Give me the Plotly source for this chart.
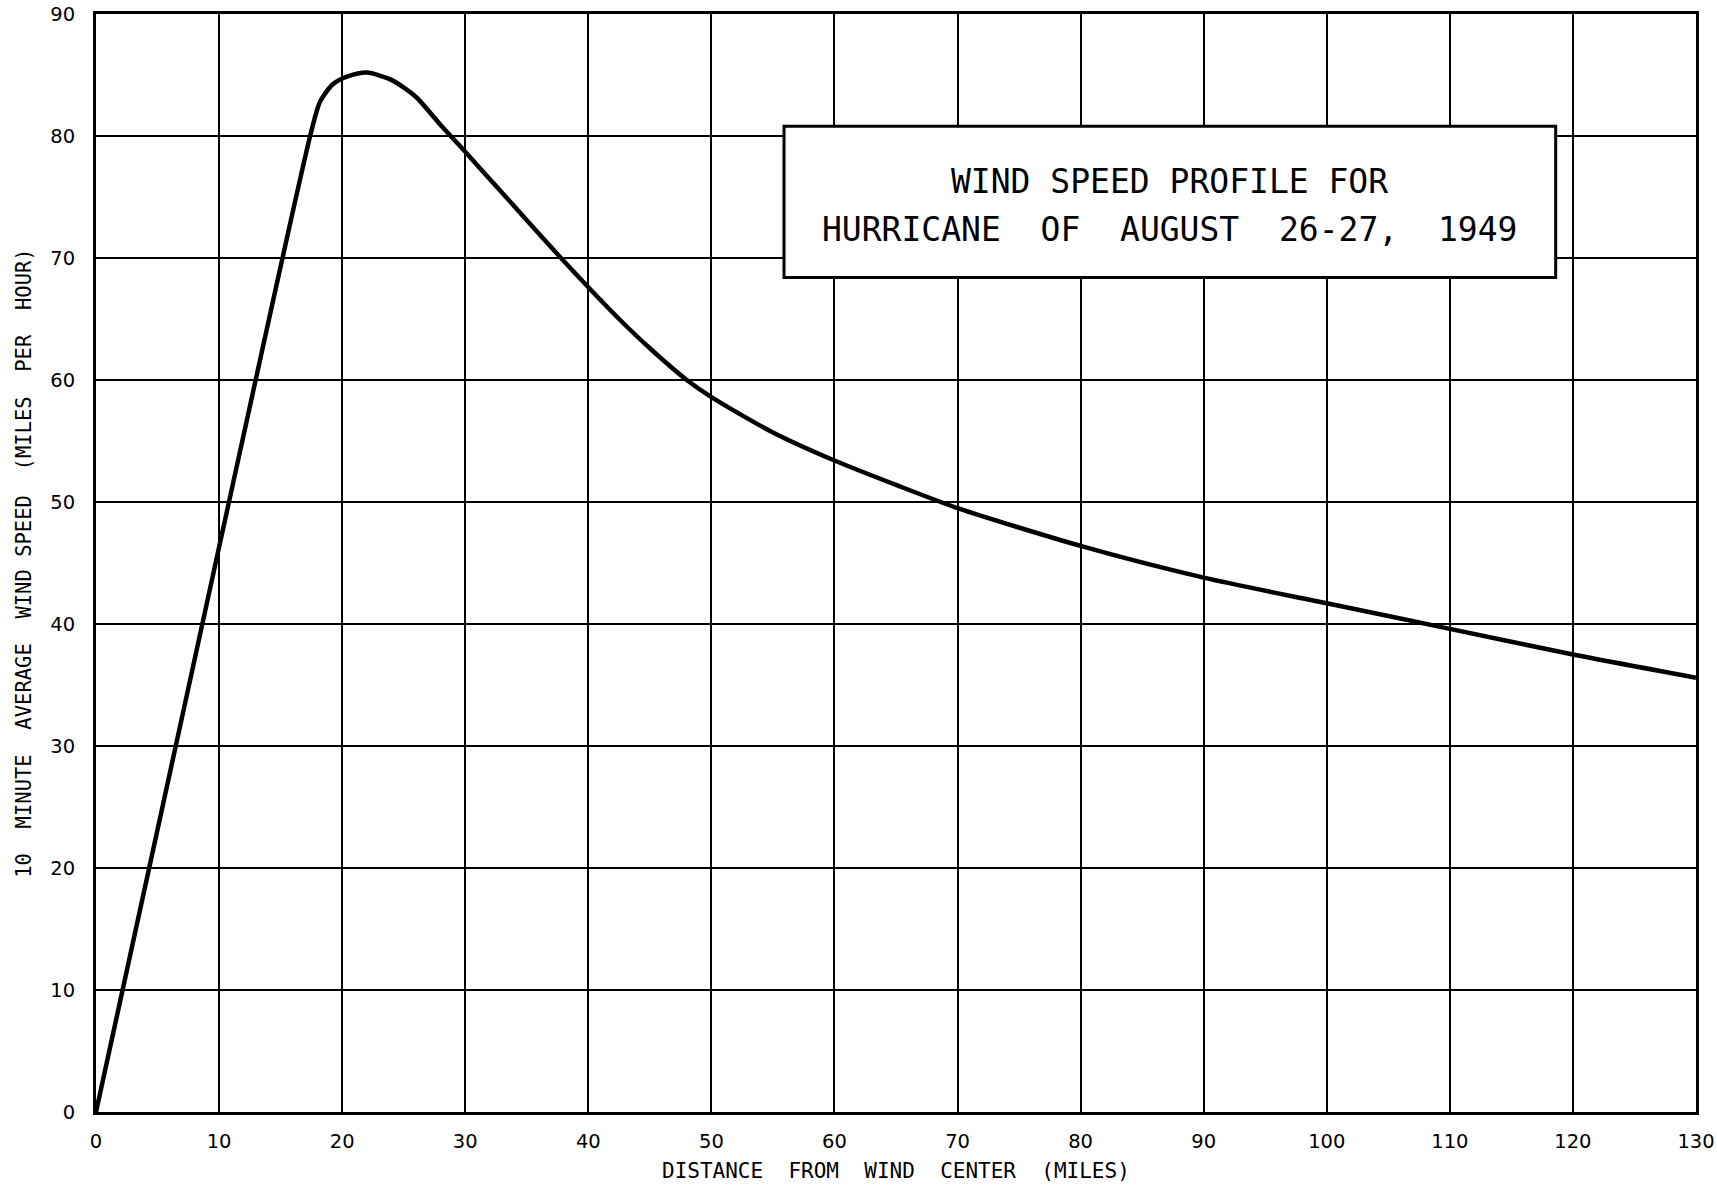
import plotly.graph_objects as go

# distance from wind centre (miles) and 10-minute average wind speed (mph)
distance = [0, 10, 17.4, 18.2, 19.2, 20.5, 22, 24, 26, 28, 30, 32.5, 35, 37.5, 40,
            42.5, 45, 48, 50, 55, 60, 65, 70, 80, 90, 100, 110, 120, 130]
speed = [0, 46.3, 80, 82.8, 84.2, 84.9, 85.2, 84.6, 83.2, 80.9, 78.7, 75.9, 73.1, 70.3, 67.6,
         65.0, 62.6, 60.0, 58.6, 55.7, 53.4, 51.4, 49.5, 46.4, 43.8, 41.7, 39.6, 37.5, 35.6]

x_ticks = list(range(0, 131, 10))
y_ticks = list(range(0, 91, 10))

NB = '\u00a0'
title_lines = ['WIND SPEED PROFILE FOR',
               f'HURRICANE{NB}{NB}OF{NB}{NB}AUGUST{NB}{NB}26-27,{NB}{NB}1949']
x_title = f'DISTANCE{NB}{NB}FROM{NB}{NB}WIND{NB}{NB}CENTER{NB}{NB}(MILES)'
y_title = f'10{NB}{NB}MINUTE{NB}{NB}AVERAGE{NB}{NB}WIND{NB}SPEED{NB}{NB}(MILES{NB}{NB}PER{NB}{NB}HOUR)'

fig = go.Figure()
fig.add_trace(go.Scatter(x=distance, y=speed,
                         mode='lines',
                         line=dict(color='black', width=4.5, shape='spline', smoothing=0.7),
                         hoverinfo='x+y'))

# title box
fig.add_shape(type='rect', x0=55.9, x1=118.6, y0=68.4, y1=80.8,
              xref='x', yref='y', line=dict(color='black', width=3),
              fillcolor='white', layer='above')
for line_text, yy in zip(title_lines, [76.3, 72.3]):
    fig.add_annotation(x=87.2, y=yy, xref='x', yref='y', text=line_text,
                       showarrow=False,
                       font=dict(family='DejaVu Sans Mono', size=33, color='black'))

fig.add_annotation(xref='paper', yref='paper', x=0.5, y=-0.054, yanchor='middle',
                   text=x_title, showarrow=False,
                   font=dict(family='DejaVu Sans Mono', size=21, color='black'))
fig.add_annotation(xref='paper', yref='paper', x=-0.0455, y=0.4995, xanchor='center',
                   text=y_title, showarrow=False, textangle=-90,
                   font=dict(family='DejaVu Sans Mono', size=20.5, color='black'))

axis_style = dict(showgrid=True, gridcolor='black', gridwidth=1.5,
                  showline=True, linecolor='black', linewidth=3, mirror=True,
                  zeroline=False, ticks='', automargin=False,
                  tickfont=dict(family='DejaVu Sans', size=19.5, color='black'))
fig.update_xaxes(range=[0, 130], tickvals=x_ticks, ticklabelstandoff=10, **axis_style)
fig.update_yaxes(range=[0, 90], tickvals=y_ticks, ticklabelstandoff=14, **axis_style)

fig.update_layout(width=1717, height=1187,
                  margin=dict(l=96, r=21, t=14, b=75),
                  paper_bgcolor='white', plot_bgcolor='white',
                  showlegend=False)

# drop the browser's default body margin so the figure fills the window exactly
fig.write_html("out.html", config={'displayModeBar': False},
               post_script="document.body.style.margin='0';")
